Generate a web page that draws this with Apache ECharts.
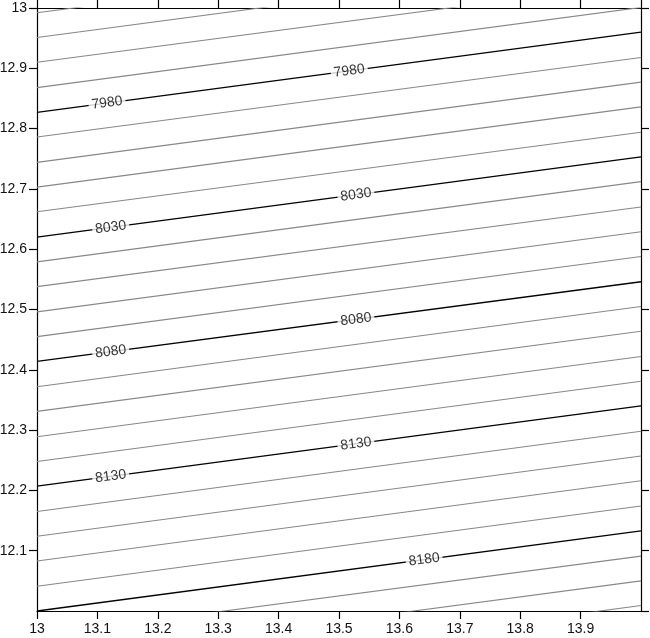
<!DOCTYPE html>
<html>
<head>
<meta charset="utf-8">
<script src="https://cdn.jsdelivr.net/npm/echarts@6/dist/echarts.min.js"></script>
<style>
  html, body { margin: 0; padding: 0; background: #fff; }
  #chart { width: 650px; height: 638px; }
</style>
</head>
<body>
<div id="chart"></div>
<script>
// contour levels and where each line meets x=13 (left) and x=14 (right)
var levels = [7940, 7950, 7960, 7970, 7980, 7990, 8000, 8010, 8020, 8030,
              8040, 8050, 8060, 8070, 8080, 8090, 8100, 8110, 8120, 8130,
              8140, 8150, 8160, 8170, 8180, 8190, 8200, 8210];
var yLeft  = [12.992, 12.951, 12.910, 12.868, 12.827, 12.786, 12.744, 12.703, 12.662, 12.620,
              12.579, 12.538, 12.496, 12.455, 12.414, 12.372, 12.331, 12.289, 12.248, 12.207,
              12.165, 12.124, 12.083, 12.041, 12.000, 11.959, 11.917, 11.876];
var yRight = [13.125, 13.084, 13.042, 13.001, 12.960, 12.918, 12.877, 12.836, 12.794, 12.753,
              12.712, 12.670, 12.629, 12.588, 12.546, 12.505, 12.464, 12.422, 12.381, 12.340,
              12.298, 12.257, 12.216, 12.174, 12.133, 12.091, 12.050, 12.009];
var majorLevels = [7980, 8030, 8080, 8130, 8180];

// contour labels: level and x position along the line
var labelLevels = [7980, 7980, 8030, 8030, 8080, 8080, 8130, 8130, 8180];
var labelX      = [13.116, 13.517, 13.122, 13.528, 13.122, 13.528, 13.122, 13.528, 13.641];

var myChart = echarts.init(document.getElementById('chart'));

var series = [];
levels.forEach(function (lv, i) {
    var major = majorLevels.indexOf(lv) >= 0;
    series.push({
        type: 'line',
        data: [[13, yLeft[i]], [14, yRight[i]]],
        symbol: 'none',
        clip: true,
        silent: true,
        z: major ? 3 : 2,
        lineStyle: { color: major ? '#000' : '#888', width: major ? 1.3 : 1.1 }
    });
});

var labelData = labelLevels.map(function (lv, k) {
    var i = levels.indexOf(lv);
    var x = labelX[k];
    var y = yLeft[i] + (yRight[i] - yLeft[i]) * (x - 13);
    return { value: [x, y], name: String(lv) };
});

series.push({
    type: 'scatter',
    data: labelData,
    symbolSize: 0,
    z: 10,
    silent: true,
    label: {
        show: true,
        position: 'inside',
        formatter: '{b}',
        rotate: 7.5,
        color: '#000',
        fontSize: 14,
        fontFamily: 'Liberation Sans, Arial, sans-serif',
        backgroundColor: '#fff',
        padding: [0, 3]
    }
});

var axisCommon = {
    type: 'value',
    interval: 0.1,
    splitLine: { show: false },
    axisLine: { show: true, lineStyle: { color: '#000', width: 1.2 } },
    axisTick: { show: true, inside: false, length: 8, lineStyle: { color: '#000', width: 1.2 } }
};

var labelFont = {
    color: '#111', fontSize: 14,
    fontFamily: 'Liberation Sans, Arial, sans-serif',
    formatter: function (v) { return +v.toFixed(1); }
};

var option = {
    animation: false,
    backgroundColor: '#fff',
    grid: { left: 37, top: 8, right: 9, bottom: 27, containLabel: false, outerBoundsMode: 'none' },
    xAxis: [
        Object.assign({}, axisCommon, {
            position: 'bottom', min: 13, max: 14,
            axisLabel: Object.assign({ showMaxLabel: false, margin: 11 }, labelFont)
        }),
        Object.assign({}, axisCommon, {
            position: 'top', min: 13, max: 14,
            axisLabel: { show: false }
        })
    ],
    yAxis: [
        Object.assign({}, axisCommon, {
            position: 'left', min: 12, max: 13,
            axisLabel: Object.assign({ showMinLabel: false, margin: 10 }, labelFont)
        }),
        Object.assign({}, axisCommon, {
            position: 'right', min: 12, max: 13,
            axisLabel: { show: false }
        })
    ],
    series: series
};

myChart.setOption(option);
</script>
</body>
</html>
